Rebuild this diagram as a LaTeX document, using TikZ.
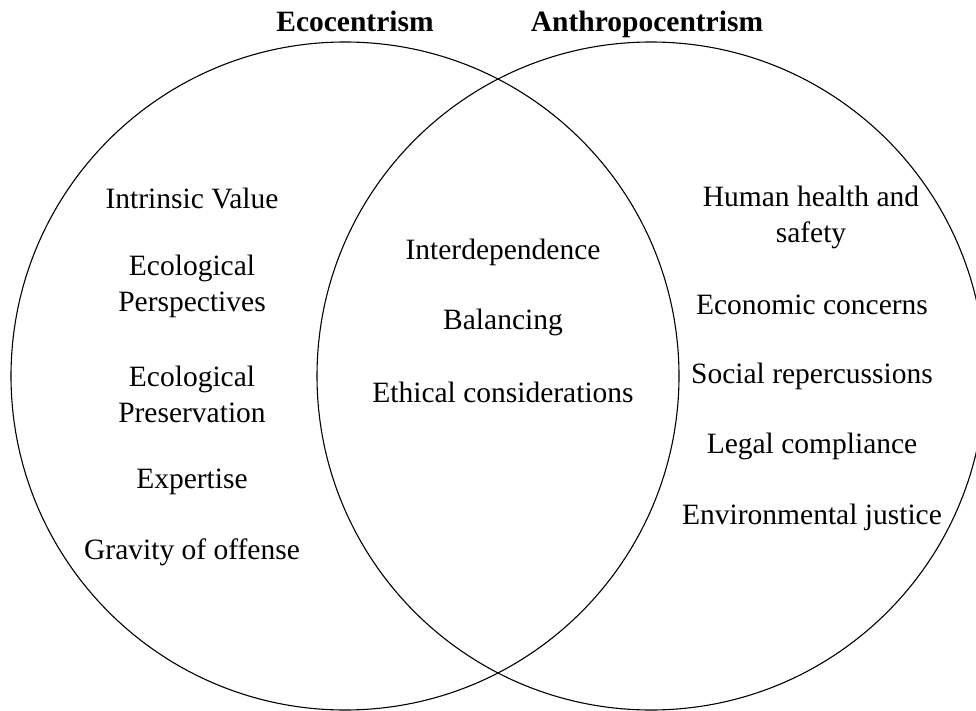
\documentclass[tikz,border=0pt]{standalone}
\usepackage{fontspec}
\setmainfont{Liberation Serif}

\tikzset{
  venn/.style={draw, circle, line width=1.1pt, minimum size=668pt, inner sep=0pt},
  heading/.style={font=\fontsize{29.5}{36}\selectfont\bfseries, anchor=base},
  item/.style={font=\fontsize{29.5}{36}\selectfont, align=center},
}

\begin{document}
\begin{tikzpicture}[x=1pt,y=-1pt]

% anchor points for size
\useasboundingbox (0,0) rectangle (976,711);

% the two circles
\node[venn] (eco) at (345,376) {};
\node[venn] (anthro) at (651,376) {};

% headings
\node[heading] (ecotitle) at (355,32) {Ecocentrism};
\node[heading] (anthrotitle) at (647,32) {Anthropocentrism};

% ecocentrism only
\node[item] (intrinsic) at (192,198) {Intrinsic Value};
\node[item] (perspectives) at (192,286) {Ecological\\Perspectives};
\node[item] (preservation) at (192,394) {Ecological\\Preservation};
\node[item] (expertise) at (192,482) {Expertise};
\node[item] (gravity) at (192,552) {Gravity of offense};

% overlap
\node[item] (interdep) at (503,252) {Interdependence};
\node[item] (balancing) at (503,322) {Balancing};
\node[item] (ethical) at (503,392) {Ethical considerations};

% anthropocentrism only
\node[item] (health) at (811,217) {Human health and\\safety};
\node[item] (economic) at (812,305) {Economic concerns};
\node[item] (social) at (812,376) {Social repercussions};
\node[item] (legal) at (812,446) {Legal compliance};
\node[item] (justice) at (812,517) {Environmental justice};

\end{tikzpicture}
\end{document}
